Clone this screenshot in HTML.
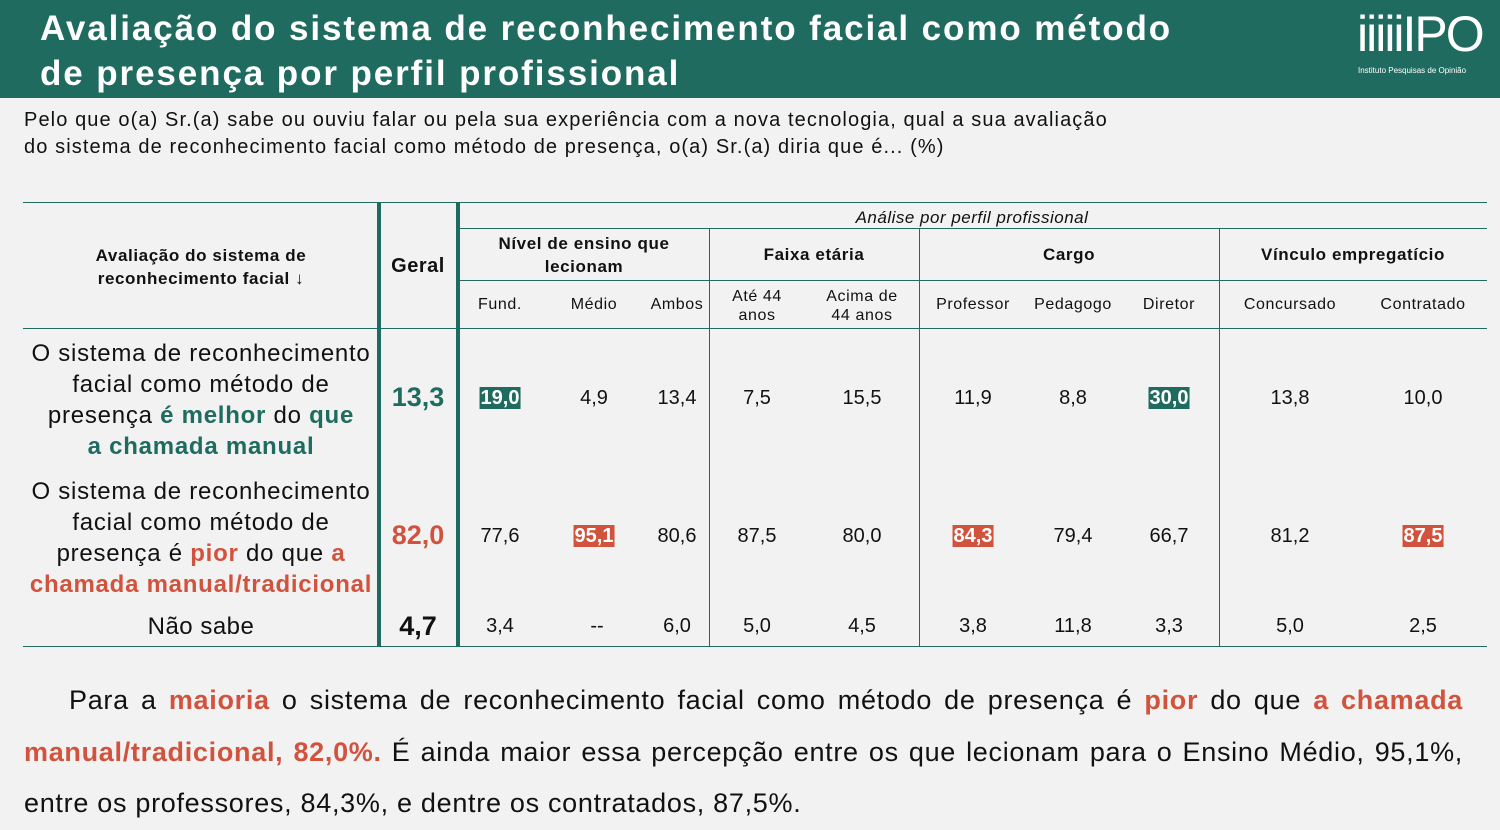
<!DOCTYPE html>
<html><head><meta charset="utf-8"><style>
body{margin:0;width:1500px;height:830px;background:#f2f2f2;font-family:"Liberation Sans",sans-serif;position:relative;overflow:hidden;color:#111}
.a{position:absolute;white-space:nowrap}
.c{position:absolute;transform:translateX(-50%);text-align:center;white-space:nowrap}
.hl{position:absolute;height:1px;background:#1f6b5f}
.vl{position:absolute;width:1px;background:#1f6b5f}
.t{color:#1f6b5f;font-weight:bold}
.r{color:#d2533d;font-weight:bold}
.bt{background:#1f6b5f;color:#fff;font-weight:bold;padding:0 1px}
.br{background:#d2533d;color:#fff;font-weight:bold;padding:0 1px}
.n{font-size:20px;top:387px}
.m{font-size:20px;top:525px}
.s{font-size:20px;top:615px}
.h{font-size:17px;font-weight:bold;letter-spacing:0.6px}
.sh{font-size:16px;letter-spacing:0.6px}
</style></head><body>
<div class="a" style="left:0;top:0;width:1500px;height:98px;background:#1f6b5f"></div>
<div class="a" style="left:40px;top:6px;color:#fff;font-size:35px;font-weight:bold;line-height:45px;letter-spacing:1.9px">Avaliação do sistema de reconhecimento facial como método<br>de presença por perfil profissional</div>
<div class="a" style="left:1357px;top:6px;color:#fff;font-size:50px;line-height:56px;letter-spacing:-2px">iiiiiIPO</div>
<div class="a" style="left:1358px;top:66px;color:#fff;font-size:8px">Instituto Pesquisas de Opinião</div>
<div class="a" style="left:24px;top:107px;font-size:20px;line-height:27px;letter-spacing:1.1px">Pelo que o(a) Sr.(a) sabe ou ouviu falar ou pela sua experiência com a nova tecnologia, qual a sua avaliação<br>do sistema de reconhecimento facial como método de presença, o(a) Sr.(a) diria que é... (%)</div>

<div class="hl" style="left:23px;width:1464px;top:202px"></div>
<div class="hl" style="left:458px;width:1029px;top:228px"></div>
<div class="hl" style="left:458px;width:1029px;top:280px"></div>
<div class="hl" style="left:23px;width:1464px;top:328px"></div>
<div class="hl" style="left:23px;width:1464px;top:646px"></div>
<div class="vl" style="left:377px;width:4px;top:202px;height:445px"></div>
<div class="vl" style="left:456px;width:4px;top:202px;height:445px"></div>
<div class="vl" style="left:709px;top:228px;height:418px"></div>
<div class="vl" style="left:919px;top:228px;height:418px"></div>
<div class="vl" style="left:1219px;top:228px;height:418px"></div>

<div class="c h" style="left:201px;top:244px;line-height:23px">Avaliação do sistema de<br>reconhecimento facial ↓</div>
<div class="c" style="left:418px;top:255px;font-size:20px;font-weight:bold;letter-spacing:0.5px">Geral</div>
<div class="c" style="left:972px;top:208px;font-size:17px;font-style:italic;letter-spacing:0.5px">Análise por perfil profissional</div>
<div class="c h" style="left:584px;top:232px;line-height:23px">Nível de ensino que<br>lecionam</div>
<div class="c h" style="left:814px;top:245px">Faixa etária</div>
<div class="c h" style="left:1069px;top:245px">Cargo</div>
<div class="c h" style="left:1353px;top:245px">Vínculo empregatício</div>
<div class="c sh" style="left:500px;top:296px">Fund.</div>
<div class="c sh" style="left:594px;top:296px">Médio</div>
<div class="c sh" style="left:677px;top:296px">Ambos</div>
<div class="c sh" style="left:757px;top:287px;line-height:19px">Até 44<br>anos</div>
<div class="c sh" style="left:862px;top:287px;line-height:19px">Acima de<br>44 anos</div>
<div class="c sh" style="left:973px;top:296px">Professor</div>
<div class="c sh" style="left:1073px;top:296px">Pedagogo</div>
<div class="c sh" style="left:1169px;top:296px">Diretor</div>
<div class="c sh" style="left:1290px;top:296px">Concursado</div>
<div class="c sh" style="left:1423px;top:296px">Contratado</div>

<div class="c" style="left:201px;top:338px;font-size:24px;line-height:31px;letter-spacing:0.75px">O sistema de reconhecimento<br>facial como método de<br>presença <span class="t">é melhor</span> do <span class="t">que</span><br><span class="t">a chamada manual</span></div>
<div class="c" style="left:201px;top:476px;font-size:24px;line-height:31px;letter-spacing:0.75px">O sistema de reconhecimento<br>facial como método de<br>presença é <span class="r">pior</span> do que <span class="r">a</span><br><span class="r">chamada manual/tradicional</span></div>
<div class="c" style="left:201px;top:613px;font-size:24px;letter-spacing:0.5px">Não sabe</div>

<div class="c t" style="left:418px;top:382px;font-size:27px">13,3</div>
<div class="c r" style="left:418px;top:520px;font-size:27px">82,0</div>
<div class="c" style="left:418px;top:611px;font-size:27px;font-weight:bold">4,7</div>

<div class="c n" style="left:500px"><span class="bt">19,0</span></div>
<div class="c n" style="left:594px">4,9</div>
<div class="c n" style="left:677px">13,4</div>
<div class="c n" style="left:757px">7,5</div>
<div class="c n" style="left:862px">15,5</div>
<div class="c n" style="left:973px">11,9</div>
<div class="c n" style="left:1073px">8,8</div>
<div class="c n" style="left:1169px"><span class="bt">30,0</span></div>
<div class="c n" style="left:1290px">13,8</div>
<div class="c n" style="left:1423px">10,0</div>

<div class="c m" style="left:500px">77,6</div>
<div class="c m" style="left:594px"><span class="br">95,1</span></div>
<div class="c m" style="left:677px">80,6</div>
<div class="c m" style="left:757px">87,5</div>
<div class="c m" style="left:862px">80,0</div>
<div class="c m" style="left:973px"><span class="br">84,3</span></div>
<div class="c m" style="left:1073px">79,4</div>
<div class="c m" style="left:1169px">66,7</div>
<div class="c m" style="left:1290px">81,2</div>
<div class="c m" style="left:1423px"><span class="br">87,5</span></div>

<div class="c s" style="left:500px">3,4</div>
<div class="c s" style="left:597px">--</div>
<div class="c s" style="left:677px">6,0</div>
<div class="c s" style="left:757px">5,0</div>
<div class="c s" style="left:862px">4,5</div>
<div class="c s" style="left:973px">3,8</div>
<div class="c s" style="left:1073px">11,8</div>
<div class="c s" style="left:1169px">3,3</div>
<div class="c s" style="left:1290px">5,0</div>
<div class="c s" style="left:1423px">2,5</div>

<div class="a" style="left:24px;top:675px;width:1439px;font-size:27px;line-height:51.5px;text-align:justify;white-space:normal;text-indent:45px;letter-spacing:0.7px">Para a <span class="r">maioria</span> o sistema de reconhecimento facial como método de presença é <span class="r">pior</span> do que <span class="r">a chamada manual/tradicional, 82,0%.</span> É ainda maior essa percepção entre os que lecionam para o Ensino Médio, 95,1%, entre os professores, 84,3%, e dentre os contratados, 87,5%.</div>
</body></html>
